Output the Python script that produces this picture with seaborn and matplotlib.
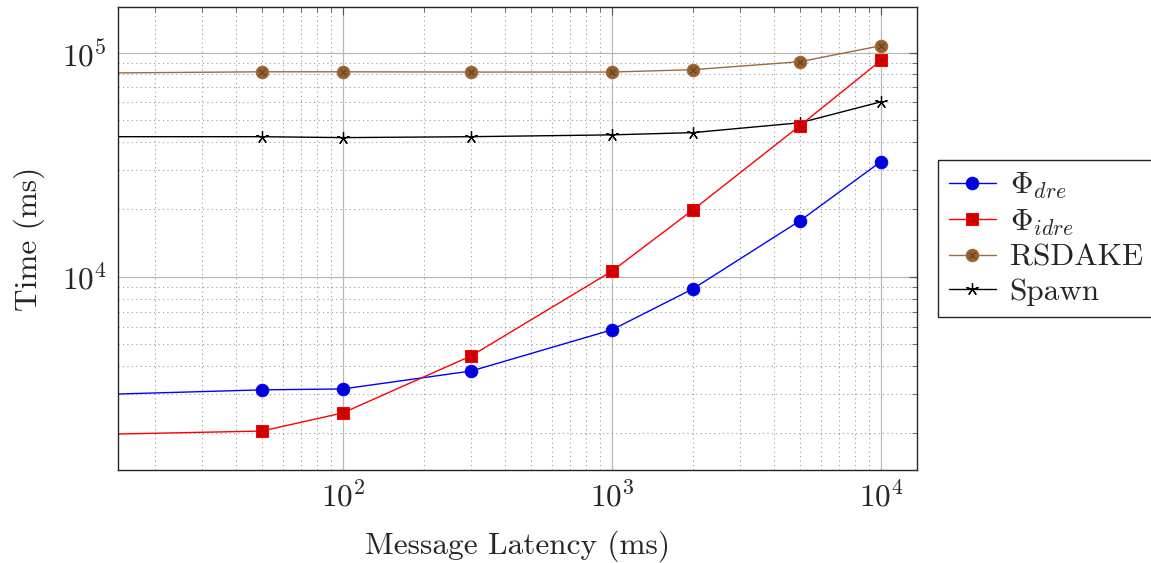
import seaborn as sns
import matplotlib.pyplot as plt
import matplotlib.ticker as mticker
from matplotlib.legend_handler import HandlerTuple
import pandas as pd

# Data (log-log chart)
latency = [10, 50, 100, 300, 1000, 2000, 5000, 10000]
phi_dre = [2960, 3130, 3160, 3800, 5800, 8840, 17800, 32700]
phi_idre = [1970, 2050, 2470, 4440, 10600, 19900, 47300, 92500]
rsdake = [81000, 82200, 82200, 82000, 82000, 84000, 91200, 107500]
spawn = [42200, 42200, 41800, 42200, 43000, 44000, 48700, 60400]

series_names = ['phi_dre', 'phi_idre', 'rsdake', 'spawn']
legend_labels = [r'$\Phi_{dre}$', r'$\Phi_{idre}$', 'RSDAKE', 'Spawn']

df = pd.concat([
    pd.DataFrame({'latency': latency, 'time': vals, 'series': name})
    for name, vals in zip(series_names, [phi_dre, phi_idre, rsdake, spawn])
])

sns.set_style('white')
plt.rcParams['font.family'] = 'serif'
plt.rcParams['font.serif'] = ['cmr10', 'DejaVu Serif']
plt.rcParams['mathtext.fontset'] = 'cm'
plt.rcParams['axes.formatter.use_mathtext'] = True
fs = 22.5
plt.rcParams['font.size'] = fs

fig = plt.figure(figsize=(11.51, 5.63), dpi=100)
ax = fig.add_axes([0.1025, 0.1652, 0.6942, 0.8224])

brown = (0.62, 0.42, 0.24)
brown_fill = (0.58, 0.38, 0.18)

sns.lineplot(data=df[df.series == 'phi_dre'], x='latency', y='time', ax=ax,
             color='blue', lw=1.0, marker='o', markersize=9,
             markerfacecolor=(0, 0, 0.85), markeredgecolor='blue')
h1 = ax.lines[-1]
sns.lineplot(data=df[df.series == 'rsdake'], x='latency', y='time', ax=ax,
             color=brown, lw=1.0, marker='o', markersize=9,
             markerfacecolor=brown_fill, markeredgecolor=brown)
h3 = ax.lines[-1]
# the "x" inside the brown circles
h3x, = ax.plot(latency, rsdake, ls='none', marker='x', markersize=5,
               markeredgewidth=0.8, color=(0.4, 0.25, 0.1))
sns.lineplot(data=df[df.series == 'spawn'], x='latency', y='time', ax=ax,
             color='black', lw=1.0, marker=(5, 2, 0), markersize=9,
             markeredgewidth=0.9, markeredgecolor='black')
h4 = ax.lines[-1]
sns.lineplot(data=df[df.series == 'phi_idre'], x='latency', y='time', ax=ax,
             color='red', lw=1.0, marker='s', markersize=8.5,
             markerfacecolor=(0.8, 0, 0), markeredgecolor='red')
h2 = ax.lines[-1]

ax.set_xscale('log')
ax.set_yscale('log')
ax.set_xlim(14.6, 13600)
ax.set_ylim(1374, 160000)

ax.xaxis.set_major_locator(mticker.LogLocator(base=10, numticks=10))
ax.xaxis.set_minor_locator(mticker.LogLocator(base=10, subs=range(2, 10), numticks=20))
ax.yaxis.set_major_locator(mticker.LogLocator(base=10, numticks=10))
ax.yaxis.set_minor_locator(mticker.LogLocator(base=10, subs=range(2, 10), numticks=20))
ax.xaxis.set_minor_formatter(mticker.NullFormatter())
ax.yaxis.set_minor_formatter(mticker.NullFormatter())

# grid and ticks in pgfplots style
ax.grid(True, which='major', color='0.72', lw=0.9, ls='-')
ax.grid(True, which='minor', color='0.6', lw=0.8, ls=(0, (1, 3)))
ax.set_axisbelow(True)
ax.tick_params(which='both', direction='in', top=True, right=True, color='0.35')
ax.tick_params(which='major', length=6, width=0.8, labelsize=fs, pad=8)
ax.tick_params(which='minor', length=3.5, width=0.6)

for axis in ['bottom', 'left', 'top', 'right']:
    ax.spines[axis].set_linewidth(1.0)
    ax.spines[axis].set_color('0.15')

ax.set_xlabel('Message Latency (ms)', fontsize=fs, labelpad=13)
ax.set_ylabel('Time (ms)', fontsize=fs, labelpad=12)

leg = ax.legend(handles=[h1, h2, (h3, h3x), h4], labels=legend_labels,
                handler_map={tuple: HandlerTuple(ndivide=1)},
                loc='center left', bbox_to_anchor=(1.026, 0.5),
                fontsize=fs, frameon=True, fancybox=False, framealpha=1,
                edgecolor='0.15', handlelength=1.5, handletextpad=0.45,
                labelspacing=0.2, borderpad=0.35, borderaxespad=0)
leg.get_frame().set_linewidth(1.0)

plt.savefig('out.png', dpi=100)
